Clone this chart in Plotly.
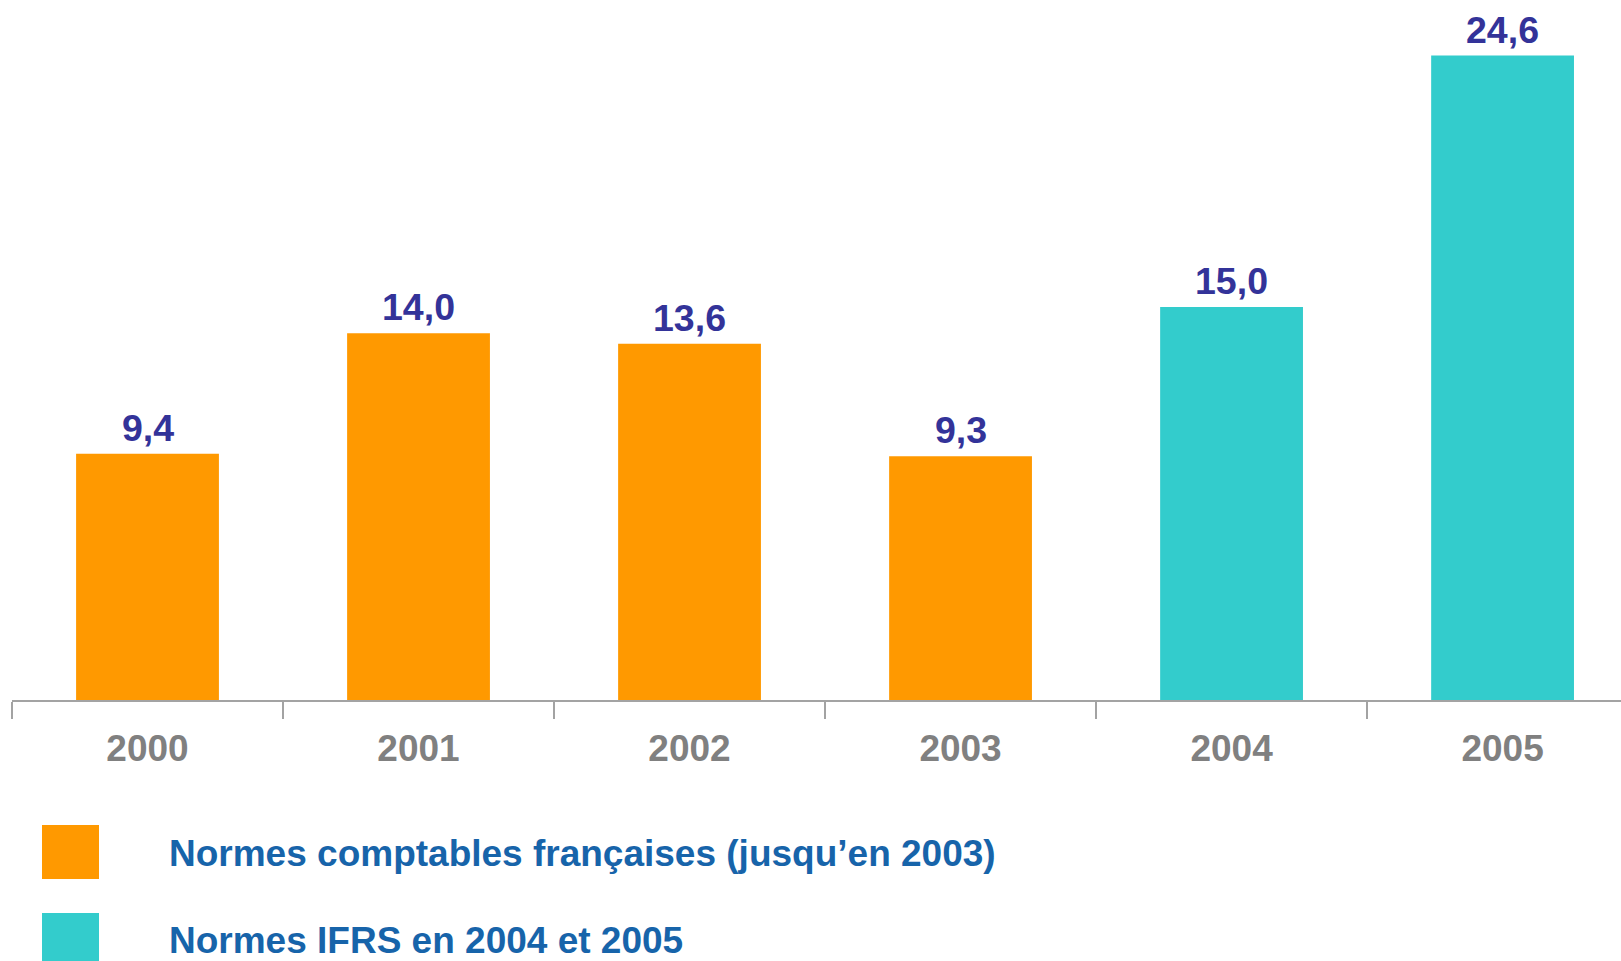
import plotly.graph_objects as go

years_fr = ["2000", "2001", "2002", "2003"]
values_fr = [9.4, 14.0, 13.6, 9.3]
years_ifrs = ["2004", "2005"]
values_ifrs = [15.0, 24.6]
all_years = years_fr + years_ifrs
legend_labels = ["Normes comptables françaises (jusqu’en 2003)", "Normes IFRS en 2004 et 2005"]
colors = ["#FF9900", "#33CCCC"]

W, H = 1621, 961
FONT = "Liberation Sans, Arial, sans-serif"
AXIS_Y = 700  # pixel row of the category axis
ML = 12

fig = go.Figure()
for xs, ys, col in [(years_fr, values_fr, colors[0]), (years_ifrs, values_ifrs, colors[1])]:
    fig.add_trace(go.Bar(
        x=xs, y=ys, marker=dict(color=col, line=dict(width=0)), width=0.527,
        showlegend=False, hoverinfo="x+y",
    ))
    for x, y in zip(xs, ys):
        # category axes take the category index as annotation position
        fig.add_annotation(x=all_years.index(x), y=y, xref="x", yref="y",
                           text=f"{y:.1f}".replace(".", ","),
                           showarrow=False, yanchor="bottom", yshift=3,
                           font=dict(family=FONT, size=37.5, color="#333399", weight="bold"))

fig.update_layout(
    width=W, height=H, separators=", ",
    barmode="overlay",
    margin=dict(l=ML, r=0, t=0, b=H - AXIS_Y),
    paper_bgcolor="white", plot_bgcolor="white",
    xaxis=dict(type="category", categoryorder="array", categoryarray=all_years,
               range=[-0.5, 5.437], showline=True, linecolor="#A3A3A3", linewidth=2,
               ticks="outside", tickson="boundaries", ticklen=17, tickwidth=2, tickcolor="#A3A3A3",
               ticklabelstandoff=15,
               tickfont=dict(family=FONT, size=37, color="#808080", weight="bold"),
               showgrid=False, zeroline=False),
    yaxis=dict(range=[0, 26.72], visible=False, showgrid=False, zeroline=False),
)

# legend drawn manually (pixel positions converted to paper coords)
leg_y = [853, 940]
sq = [(825, 879), (913, 975)]
ph = AXIS_Y
pw = W - ML
for i in range(2):
    fig.add_shape(type="rect", xref="paper", yref="paper", layer="above",
                  x0=(42 - ML) / pw, x1=(99 - ML) / pw,
                  y0=(ph - sq[i][1]) / ph, y1=(ph - sq[i][0]) / ph,
                  fillcolor=colors[i], line=dict(width=0))
    fig.add_annotation(xref="paper", yref="paper",
                       x=(167 - ML) / pw, y=(ph - leg_y[i]) / ph,
                       xanchor="left", yanchor="middle", showarrow=False,
                       text=legend_labels[i],
                       font=dict(family=FONT, size=37, color="#1764AA", weight="bold"))

fig.write_html("out.html", config={"displayModeBar": False},
               post_script="document.body.style.margin='0';document.body.style.overflow='hidden';")
